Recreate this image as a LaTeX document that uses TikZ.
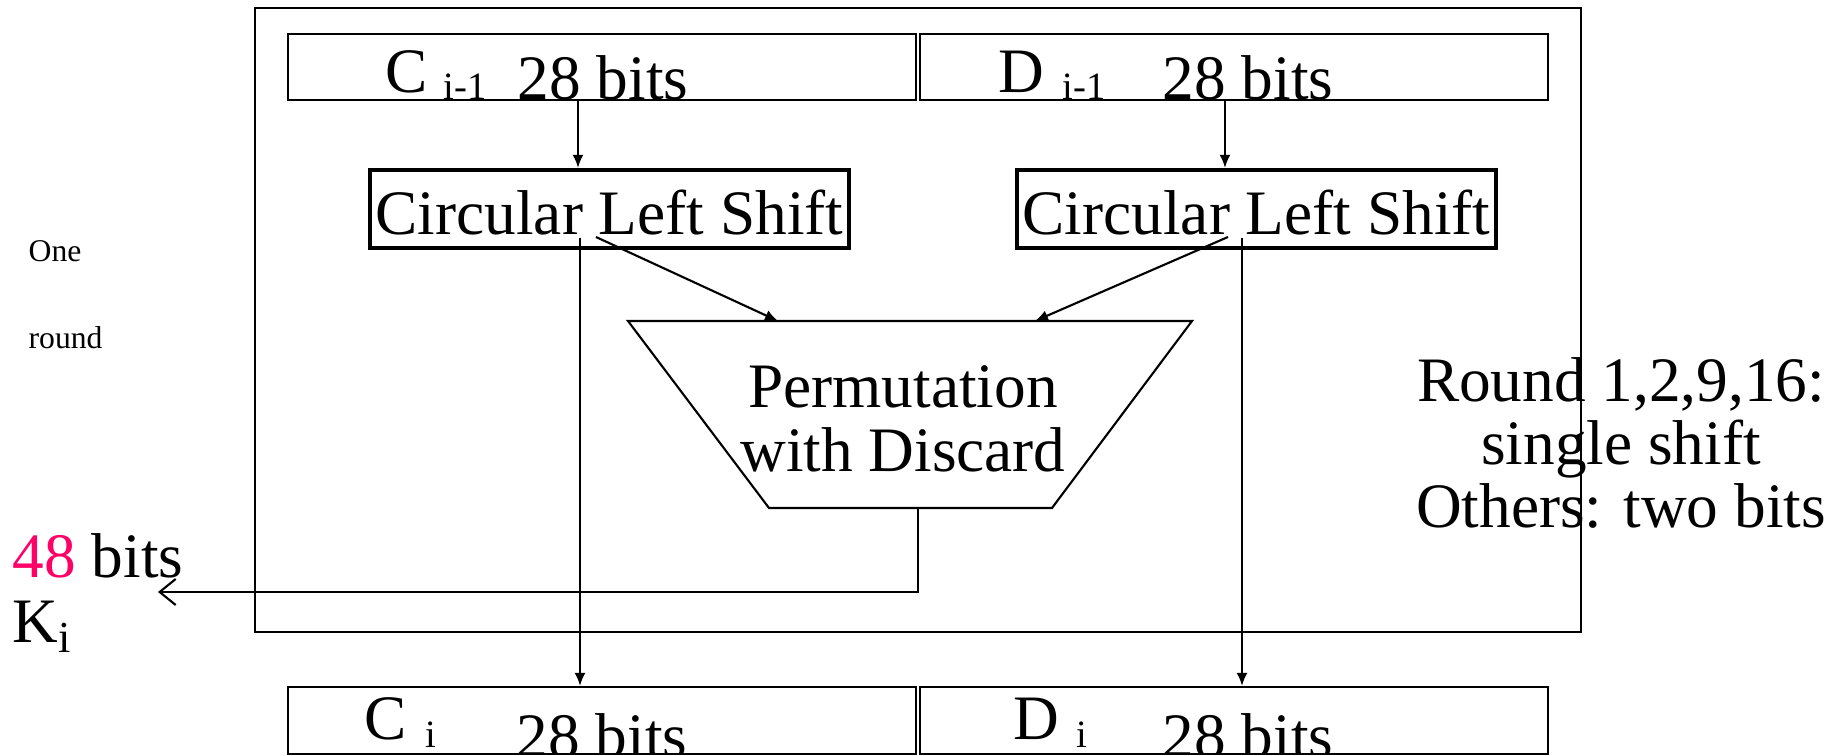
\documentclass[tikz,border=0pt]{standalone}
\usepackage{fontspec}
\setmainfont{Liberation Serif}
\usetikzlibrary{arrows.meta,positioning}

\definecolor{keypink}{RGB}{255,0,102}
\newcommand{\bigfont}{\fontsize{18}{18}\selectfont}
\newcommand{\subfont}{\fontsize{11}{11}\selectfont}
\newcommand{\tinyfont}{\fontsize{9}{9}\selectfont}

\tikzset{
    halfbox/.style={draw, line width=0.6pt, minimum width=6.28cm, minimum height=0.66cm, inner sep=0pt},
    shiftbox/.style={draw, line width=1.2pt, minimum width=4.79cm, minimum height=0.78cm, inner sep=0pt,
        text height=14.5pt, text depth=0pt, font=\bigfont},
    arr/.style={-{Latex[length=1.3mm,width=1.1mm]}, line width=0.6pt},
    lbl/.style={anchor=base west, inner sep=0pt, font=\bigfont},
    sublbl/.style={anchor=base west, inner sep=0pt, font=\subfont},
}

\begin{document}
\begin{tikzpicture}[x=0.01cm, y=-0.01cm]  % 以像素为单位, y 轴向下
    \useasboundingbox (0,0) rectangle (1835,755);

    % 一轮的外框
    \draw[line width=0.7pt] (255,8) rectangle (1581,632);

    % 上方 C_{i-1}, D_{i-1}
    \node[halfbox] (cprev) at (602,67) {};
    \node[halfbox] (dprev) at (1234,67) {};
    \node[lbl] (cprevname) at (385,93) {C};
    \node[sublbl] (cprevsub) at (443,100) {i-1};
    \node[lbl] (cprevbits) at (517,100) {28 bits};
    \node[lbl] (dprevname) at (998,93) {D};
    \node[sublbl] (dprevsub) at (1062,100) {i-1};
    \node[lbl] (dprevbits) at (1162,100) {28 bits};

    % 两个循环左移
    \node[shiftbox] (shiftC) at (609.5,209) {Circular Left Shift};
    \node[shiftbox] (shiftD) at (1256.5,209) {Circular Left Shift};

    % 下方 C_i, D_i
    \node[halfbox, minimum height=0.67cm] (cnext) at (602,720.5) {};
    \node[halfbox, minimum height=0.67cm] (dnext) at (1234,720.5) {};
    \node[lbl] (cnextname) at (364,740) {C};
    \node[sublbl] (cnextsub) at (425,748) {i};
    \node[lbl] (cnextbits) at (516,758) {28 bits};
    \node[lbl] (dnextname) at (1013,740) {D};
    \node[sublbl] (dnextsub) at (1076,748) {i};
    \node[lbl] (dnextbits) at (1162,758) {28 bits};

    % 置换选择 (梯形)
    \draw[line width=0.6pt] (628,321) -- (1192,321) -- (1052,508) -- (769,508) -- cycle;
    \node[font=\bigfont, align=center, inner sep=0pt] (perm) at (903,419) {Permutation\\with Discard};
    \coordinate (permL) at (778,321);
    \coordinate (permR) at (1035,321);
    \coordinate (permOut) at (918,508);

    % 连线
    \coordinate (cIn) at ([xshift=-0.24cm]cprev.south);
    \coordinate (dIn) at ([xshift=-0.09cm]dprev.south);
    \draw[arr] (cIn) -- (cIn |- shiftC.north);
    \draw[arr] (dIn) -- (dIn |- shiftD.north);

    \coordinate (cOut) at ([shift={(-29.5,29)}]shiftC.center);
    \coordinate (dOut) at ([shift={(-14.5,29)}]shiftD.center);
    \draw[arr] (cOut) -- (cOut |- cnext.north);
    \draw[arr] (dOut) -- (dOut |- dnext.north);

    \coordinate (cDiag) at ([shift={(-13.5,28)}]shiftC.center);
    \coordinate (dDiag) at ([shift={(-28.5,28)}]shiftD.center);
    \draw[arr] (cDiag) -- (permL);
    \draw[arr] (dDiag) -- (permR);

    % 输出子密钥
    \coordinate (keyEnd) at (158,592);
    \draw[-{Straight Barb[length=1.6mm,width=2.6mm]}, line width=0.6pt] (permOut) |- (keyEnd);
    \node[lbl] (keybits) at (12,578) {\textcolor{keypink}{48} bits};
    \node[lbl] (keyname) at (12,643) {K\textsubscript{i}};

    % 左侧说明
    \node[anchor=base west, inner sep=0pt, font=\tinyfont] (one) at (28,262) {One};
    \node[anchor=base west, inner sep=0pt, font=\tinyfont] (round) at (28,349) {round};

    % 右侧说明
    \node[font=\bigfont, align=center, inner sep=0pt] (note) at (1621,443) {Round 1,2,9,16:\\single shift\\Others: two bits};
\end{tikzpicture}
\end{document}
